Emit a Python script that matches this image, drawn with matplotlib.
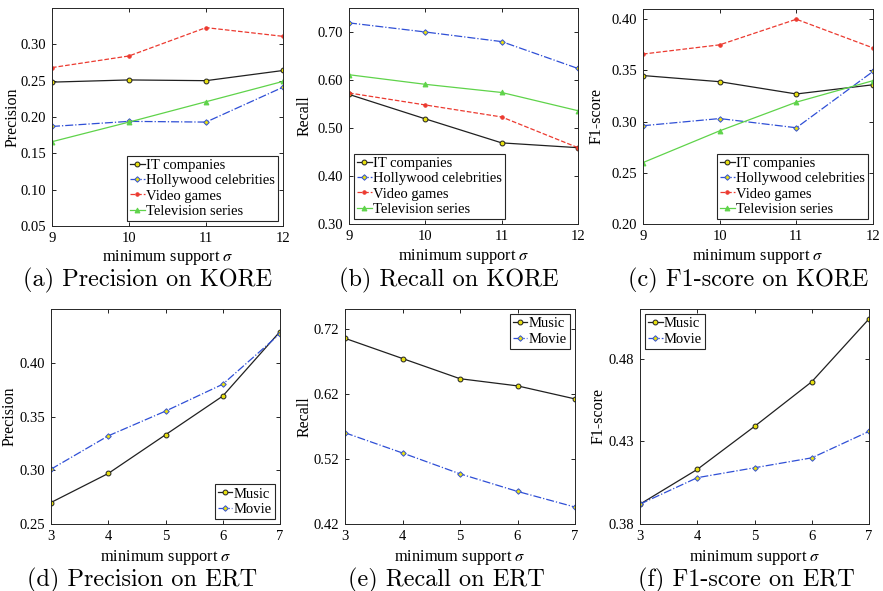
import matplotlib
matplotlib.use('Agg')
import matplotlib.pyplot as plt
from matplotlib.ticker import FormatStrFormatter

plt.rcParams['font.family'] = ['Liberation Serif', 'DejaVu Serif']
plt.rcParams['mathtext.fontset'] = 'stix'

# ---- data ----
kore_sigma = [9, 10, 11, 12]
kore_labels = ['IT companies', 'Hollywood celebrities', 'Video games', 'Television series']

kore_precision = {
    'IT companies': [0.248, 0.251, 0.250, 0.264],
    'Hollywood celebrities': [0.187, 0.194, 0.193, 0.241],
    'Video games': [0.268, 0.284, 0.323, 0.311],
    'Television series': [0.166, 0.193, 0.221, 0.249],
}
kore_recall = {
    'IT companies': [0.570, 0.519, 0.469, 0.459],
    'Hollywood celebrities': [0.719, 0.700, 0.680, 0.624],
    'Video games': [0.573, 0.548, 0.523, 0.459],
    'Television series': [0.611, 0.591, 0.574, 0.536],
}
kore_f1 = {
    'IT companies': [0.345, 0.339, 0.327, 0.336],
    'Hollywood celebrities': [0.296, 0.303, 0.294, 0.349],
    'Video games': [0.366, 0.375, 0.400, 0.372],
    'Television series': [0.260, 0.291, 0.319, 0.340],
}

ert_sigma = [3, 4, 5, 6, 7]
ert_labels = ['Music', 'Movie']
ert_precision = {'Music': [0.270, 0.297, 0.333, 0.369, 0.429],
                 'Movie': [0.301, 0.332, 0.355, 0.380, 0.427]}
ert_recall = {'Music': [0.705, 0.674, 0.643, 0.632, 0.612],
              'Movie': [0.560, 0.529, 0.497, 0.470, 0.446]}
ert_f1 = {'Music': [0.392, 0.413, 0.439, 0.466, 0.504],
          'Movie': [0.392, 0.408, 0.414, 0.420, 0.436]}

# ---- styles ----
BLUE = '#2f4fd6'
RED = '#ec3a30'
GREEN = '#5fd34a'
YEL = '#e8e010'
styles = {
    'IT companies': dict(color='#202020', ls='-', marker='o', mfc=YEL, mec='#202020', ms=3.5),
    'Hollywood celebrities': dict(color=BLUE, ls='-.', marker='D', mfc=YEL, mec=BLUE, ms=2.8),
    'Video games': dict(color=RED, ls='--', marker='o', mfc=RED, mec=RED, ms=2.5),
    'Television series': dict(color=GREEN, ls='-', marker='^', mfc=GREEN, mec=GREEN, ms=3.5),
    'Music': dict(color='#202020', ls='-', marker='o', mfc=YEL, mec='#202020', ms=3.5),
    'Movie': dict(color=BLUE, ls='-.', marker='D', mfc=YEL, mec=BLUE, ms=2.8),
}

W, H = 883, 591
fig = plt.figure(figsize=(W / 100, H / 100), dpi=100)


def make_ax(x0, x1, y0, y1):
    return fig.add_axes([x0 / W, 1 - y1 / H, (x1 - x0) / W, (y1 - y0) / H])


def panel(ax, xs, labels, data, ylim, yticks, ylabel, legloc, ylab_x, xlab_y):
    for name in labels:
        s = styles[name]
        ax.plot(xs, data[name], color=s['color'], ls=s['ls'], lw=0.9,
                marker=s['marker'], mfc=s['mfc'], mec=s['mec'], ms=s['ms'],
                mew=0.7, label=name)
    ax.set_xlim(xs[0], xs[-1])
    ax.set_xticks(xs)
    ax.set_ylim(*ylim)
    ax.set_yticks(yticks)
    ax.yaxis.set_major_formatter(FormatStrFormatter('%.2f'))
    ax.tick_params(direction='in', length=3, width=0.6, labelsize=10.5,
                   top=True, right=True, pad=4)
    for sp in ax.spines.values():
        sp.set_linewidth(0.7)
        sp.set_color('#262626')
    ax.set_xlabel(r'minimum support $\sigma$', fontsize=11.8)
    ax.xaxis.set_label_coords(0.5, xlab_y)
    ax.set_ylabel(ylabel, fontsize=11.5)
    ax.yaxis.set_label_coords(ylab_x, 0.5)
    leg = ax.legend(loc=legloc, fontsize=10.5, handlelength=1.0, handletextpad=0.1,
                    borderpad=0.2, labelspacing=0.15, borderaxespad=0.35,
                    fancybox=False, framealpha=1)
    leg.get_frame().set_edgecolor('#262626')
    leg.get_frame().set_linewidth(0.8)


# top row (KORE)
axa = make_ax(52, 283, 8, 226)
panel(axa, kore_sigma, kore_labels, kore_precision, (0.05, 0.35),
      [0.05, 0.10, 0.15, 0.20, 0.25, 0.30], 'Precision', 'lower right', -0.135, -0.1)
axb = make_ax(349, 578, 8, 224)
panel(axb, kore_sigma, kore_labels, kore_recall, (0.30, 0.75),
      [0.30, 0.40, 0.50, 0.60, 0.70], 'Recall', 'lower left', -0.157, -0.105)
axc = make_ax(643, 873, 9, 224)
panel(axc, kore_sigma, kore_labels, kore_f1, (0.20, 0.41),
      [0.20, 0.25, 0.30, 0.35, 0.40], 'F1-score', 'lower right', -0.165, -0.105)

# bottom row (ERT)
axd = make_ax(51, 280, 309, 524)
panel(axd, ert_sigma, ert_labels, ert_precision, (0.25, 0.45),
      [0.25, 0.30, 0.35, 0.40], 'Precision', 'lower right', -0.148, -0.11)
axe = make_ax(345, 575, 309, 524)
panel(axe, ert_sigma, ert_labels, ert_recall, (0.42, 0.75),
      [0.42, 0.52, 0.62, 0.72], 'Recall', 'upper right', -0.143, -0.11)
axf = make_ax(640, 869, 309, 524)
panel(axf, ert_sigma, ert_labels, ert_f1, (0.38, 0.51),
      [0.38, 0.43, 0.48], 'F1-score', 'upper left', -0.148, -0.11)

captions = [('(a) Precision on KORE', 148, 280), ('(b) Recall on KORE', 449, 280),
            ('(c) F1-score on KORE', 748, 280), ('(d) Precision on ERT', 142, 580),
            ('(e) Recall on ERT', 446, 580), ('(f) F1-score on ERT', 746, 580)]
for txt, cx, cy in captions:
    fig.text(cx / W, 1 - cy / H, txt, ha='center', va='center', fontsize=17.5,
             family=['cmr10', 'DejaVu Serif'])

fig.savefig('out.png', dpi=100)
